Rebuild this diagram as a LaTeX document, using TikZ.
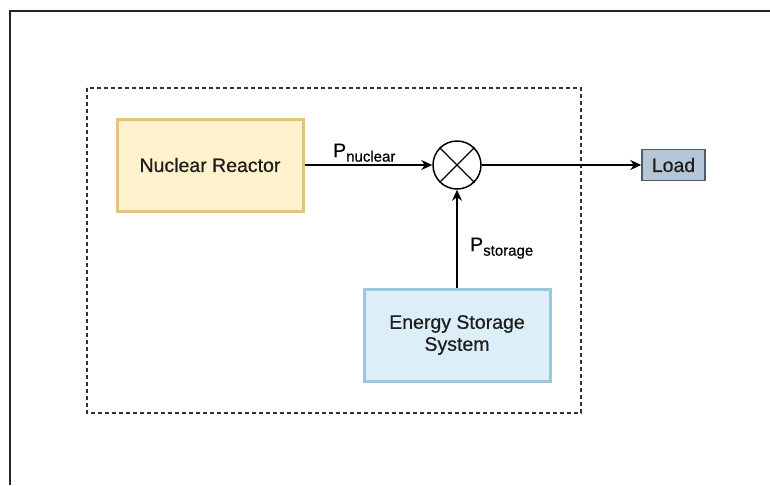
\documentclass[tikz,border=0pt]{standalone}
\usepackage{fontspec}
\setmainfont[FakeBold=0.6]{Liberation Sans}
\usetikzlibrary{arrows.meta}
\definecolor{nrfill}{HTML}{FFF2CC}
\definecolor{nrdraw}{HTML}{E3C47C}
\definecolor{esfill}{HTML}{DCEEF7}
\definecolor{esdraw}{HTML}{9CC8DE}
\definecolor{ldfill}{HTML}{B5C6D6}
\definecolor{lddraw}{HTML}{4E5C6A}
\definecolor{txt}{HTML}{1E1E1E}
\begin{document}
\begin{tikzpicture}[x=1pt,y=-1pt,
  every node/.style={font=\fontsize{19.5}{22}\selectfont, text=txt},
  blockbox/.style={draw, line width=3pt, minimum width=186pt, minimum height=92pt, align=center, inner sep=0pt},
  conn/.style={line width=1.6pt, -{Stealth[length=11pt,width=10pt]}},
  lbl/.style={font=\fontsize{19.5}{22}\selectfont, text=black, inner sep=0pt}
]
\useasboundingbox (0,0) rectangle (770,485);
% outer frame (top and left only visible)
\draw[line width=2pt, black!85] (770,10.5) -- (9.5,10.5) -- (9.5,485);
% dashed group
\draw[line width=1.3pt, dash pattern=on 4pt off 3pt, black!80] (87,88) rectangle (581,413);
% nodes
\node[blockbox, draw=nrdraw, fill=nrfill] (nr) at (210,165) {Nuclear Reactor};
\node[blockbox, draw=esdraw, fill=esfill] (es) at (457,335) {Energy Storage\\System};
\node[draw, circle, line width=1.5pt, minimum size=48pt, inner sep=0pt] (sum) at (457,165) {};
\draw[line width=1.1pt] (sum.north west) -- (sum.south east);
\draw[line width=1.1pt] (sum.north east) -- (sum.south west);
\node[draw=lddraw, fill=ldfill, line width=1.5pt, minimum width=63pt, minimum height=31pt, inner sep=0pt] (load) at (673.5,165) {Load};
% connectors
\draw[conn] (nr.east) -- (sum.west);
\draw[conn] (sum.east) -- (load.west);
\draw[conn] (es.north) -- (sum.south);
% labels
\node[lbl, anchor=base west] (lpn) at (333,157) {P\raisebox{-0.45ex}{\fontsize{15}{15}\selectfont nuclear}};
\node[lbl, anchor=base west] (lps) at (470,251) {P\raisebox{-0.45ex}{\fontsize{15}{15}\selectfont storage}};
\end{tikzpicture}
\end{document}
